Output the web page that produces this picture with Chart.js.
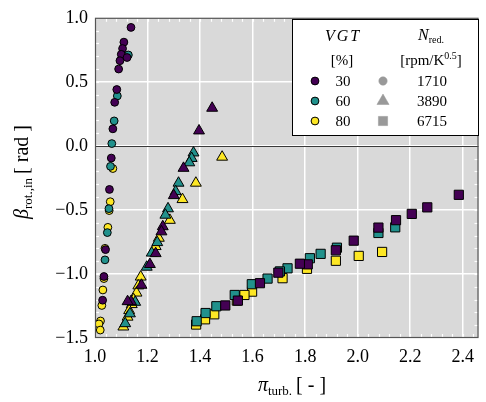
<!DOCTYPE html>
<html>
<head>
<meta charset="utf-8">
<script src="https://cdn.jsdelivr.net/npm/chart.js@4.4.1/dist/chart.umd.min.js"></script>
<style>
html,body{margin:0;padding:0;background:#fff;}
#wrap{width:486px;height:402px;position:relative;}
</style>
</head>
<body>
<div id="wrap"><canvas id="c"></canvas></div>
<script>
// ---- data (x = pi_turb, y = beta_rot,in) ----
const circ30 = [[1.137,0.925],[1.11,0.81],[1.105,0.76],[1.10,0.715],[1.122,0.69],[1.095,0.665],[1.09,0.60],[1.083,0.44],[1.075,0.34],[1.068,0.133],[1.062,-0.095],[1.055,-0.34],[1.04,-0.81],[1.034,-1.02],[1.029,-1.205]];
const circ60 = [[1.127,0.71],[1.085,0.39],[1.073,0.195],[1.064,0.018],[1.059,-0.16],[1.053,-0.49],[1.047,-0.677],[1.038,-0.89]];
const circ80 = [[1.068,-0.177],[1.058,-0.436],[1.054,-0.505],[1.049,-0.636],[1.038,-0.80],[1.034,-1.036],[1.03,-1.125],[1.026,-1.246],[1.021,-1.367],[1.015,-1.39],[1.020,-1.438]];
const tri30 = [[1.446,0.295],[1.396,0.118],[1.337,-0.174],[1.30,-0.387],[1.258,-0.63],[1.253,-0.67],[1.231,-0.84],[1.209,-0.925],[1.177,-1.087],[1.137,-1.215],[1.124,-1.215]];
const tri60 = [[1.375,-0.054],[1.368,-0.097],[1.359,-0.131],[1.318,-0.29],[1.307,-0.356],[1.278,-0.49],[1.268,-0.54],[1.237,-0.754],[1.216,-0.836],[1.197,-0.946],[1.153,-1.22],[1.133,-1.31],[1.115,-1.387]];
const tri80 = [[1.484,-0.087],[1.384,-0.29],[1.333,-0.418],[1.285,-0.58],[1.243,-0.72],[1.231,-0.785],[1.174,-1.023],[1.165,-1.092],[1.158,-1.148],[1.147,-1.20],[1.14,-1.238],[1.13,-1.285],[1.124,-1.336],[1.108,-1.413]];
const sq30 = [[2.385,-0.382],[2.265,-0.48],[2.206,-0.531],[2.146,-0.58],[2.079,-0.638],[1.985,-0.74],[1.917,-0.815],[1.81,-0.925],[1.78,-0.92],[1.698,-0.99],[1.628,-1.072],[1.544,-1.208],[1.496,-1.246]];
const sq60 = [[2.143,-0.636],[2.079,-0.68],[1.921,-0.795],[1.859,-0.843],[1.818,-0.877],[1.733,-0.956],[1.704,-0.98],[1.657,-1.036],[1.597,-1.08],[1.532,-1.164],[1.462,-1.252],[1.421,-1.305],[1.387,-1.369]];
const sq80 = [[2.093,-0.828],[2.004,-0.859],[1.917,-0.897],[1.807,-0.96],[1.714,-1.033],[1.598,-1.138],[1.569,-1.164],[1.54,-1.208],[1.454,-1.315],[1.419,-1.354],[1.385,-1.395]];

const vgtLabels = ['30','60','80'];
const nredLabels = ['1710','3890','6715'];
const xTickValues = [1.0,1.2,1.4,1.6,1.8,2.0,2.2,2.4];
const xTickLabels = ['1.0','1.2','1.4','1.6','1.8','2.0','2.2','2.4'];
const yTickValues = [1.0,0.5,0.0,-0.5,-1.0,-1.5];
const yTickLabels = ['1.0','0.5','0.0','\u22120.5','\u22121.0','\u22121.5'];

const COLORS = ['#440154','#21918c','#fde725'];
const SERIF = "'Liberation Serif','DejaVu Serif',serif";

function ds(pts, color, shape, r){
  return {data: pts.map(p=>({x:p[0],y:p[1]})), backgroundColor: color, borderColor:'#000', borderWidth:1,
          pointStyle: shape, pointRadius: r, pointHoverRadius: r};
}
const datasets = [
  ds(sq30,COLORS[0],'rect',6.5), ds(sq60,COLORS[1],'rect',6.5), ds(sq80,COLORS[2],'rect',6.5),
  ds(tri30,COLORS[0],'triangle',6.3), ds(tri60,COLORS[1],'triangle',6.3), ds(tri80,COLORS[2],'triangle',6.3),
  ds(circ30,COLORS[0],'circle',3.9), ds(circ60,COLORS[1],'circle',3.9), ds(circ80,COLORS[2],'circle',3.9)
];

const decor = {
  id:'decor',
  beforeDraw(chart){
    const {ctx, chartArea:a} = chart;
    ctx.save();
    ctx.fillStyle = '#d9d9d9';
    ctx.fillRect(a.left, a.top, a.right-a.left, a.bottom-a.top);
    ctx.restore();
  },
  beforeDatasetsDraw(chart){
    const {ctx, chartArea:a, scales:{x,y}} = chart;
    ctx.save();
    ctx.strokeStyle = '#ffffff'; ctx.lineWidth = 1.2;
    for(let i=0;i<=36;i++){
      const v = 1.0 + i*0.04; const px = Math.round(x.getPixelForValue(v))+0.5;
      if(px>a.right) break;
      ctx.beginPath(); ctx.moveTo(px,a.bottom); ctx.lineTo(px,a.bottom-4); ctx.stroke();
      ctx.beginPath(); ctx.moveTo(px,a.top); ctx.lineTo(px,a.top+4); ctx.stroke();
    }
    for(let i=0;i<=25;i++){
      const v = -1.5 + i*0.1; const py = Math.round(y.getPixelForValue(v))+0.5;
      ctx.beginPath(); ctx.moveTo(a.left,py); ctx.lineTo(a.left+4,py); ctx.stroke();
      ctx.beginPath(); ctx.moveTo(a.right,py); ctx.lineTo(a.right-4,py); ctx.stroke();
    }
    const y0 = Math.round(y.getPixelForValue(0))+0.5;
    ctx.strokeStyle = '#3a3a3a'; ctx.lineWidth = 1.2;
    ctx.beginPath(); ctx.moveTo(a.left,y0); ctx.lineTo(a.right,y0); ctx.stroke();
    ctx.restore();
  },
  afterDatasetsDraw(chart){
    const {ctx, chartArea:a} = chart;
    ctx.save();
    ctx.strokeStyle = '#555'; ctx.lineWidth = 1.2;
    ctx.strokeRect(a.left+0.5, a.top+0.5, a.right-a.left-1, a.bottom-a.top-1);
    ctx.restore();
  },
  afterDraw(chart){
    const {ctx} = chart;
    ctx.save();
    ctx.fillStyle = '#000'; ctx.textBaseline = 'alphabetic';
    function measure(parts){ let w=0; for(const p of parts){ ctx.font=p[1]; w+=ctx.measureText(p[0]).width; } return w; }
    function drawParts(parts, cx, by){
      let w = measure(parts); let xx = cx - w/2;
      for(const p of parts){ ctx.font=p[1]; ctx.textAlign='left'; ctx.fillText(p[0], xx, by + (p[2]||0)); xx += ctx.measureText(p[0]).width; }
    }
    drawParts([['\u03c0','italic 20px '+SERIF,0],['turb.','13px '+SERIF,4],['\u2009[ - ]','20px '+SERIF,0]], 292, 391);
    ctx.save();
    ctx.translate(28, 172); ctx.rotate(-Math.PI/2);
    drawParts([['\u03b2','italic 20px '+SERIF,0],['rot.,in','13px '+SERIF,4],['\u2009[ rad ]','20px '+SERIF,0]], 0, 0);
    ctx.restore();
    const L = {l:292, t:19, r:479, b:136};
    ctx.fillStyle = '#fff'; ctx.fillRect(L.l, L.t, L.r-L.l, L.b-L.t);
    ctx.strokeStyle = '#000'; ctx.lineWidth = 1; ctx.strokeRect(L.l+0.5, L.t+0.5, L.r-L.l-1, L.b-L.t-1);
    ctx.fillStyle = '#000';
    ctx.save();
    ctx.letterSpacing = '2px';
    drawParts([['VGT','italic 16px '+SERIF,0]], 343, 41);
    ctx.restore();
    drawParts([['N','italic 16px '+SERIF,0],['red.','10px '+SERIF,3]], 431, 40);
    drawParts([['[%]','15px '+SERIF,0]], 342, 65);
    drawParts([['[rpm/K','15px '+SERIF,0],['0.5','10px '+SERIF,-6],[']','15px '+SERIF,0]], 431, 65);
    const rows = [81, 101, 121];
    const shapes = ['circle','triangle','rect'];
    const gr = [4.2, 7, 6.5];
    for(let i=0;i<3;i++){
      ctx.save(); ctx.fillStyle = COLORS[i]; ctx.strokeStyle='#000'; ctx.lineWidth=1;
      ctx.beginPath(); ctx.arc(315, rows[i], 3.9, 0, Math.PI*2); ctx.fill(); ctx.stroke(); ctx.restore();
      ctx.save(); ctx.fillStyle = '#999'; ctx.strokeStyle='#999'; ctx.lineWidth=0.5;
      Chart.helpers.drawPoint(ctx, {pointStyle:shapes[i], radius:gr[i], borderWidth:0.5}, 383, rows[i]);
      ctx.restore();
      ctx.fillStyle = '#000';
      drawParts([[vgtLabels[i],'15px '+SERIF,0]], 343, rows[i]+5);
      drawParts([[nredLabels[i],'15px '+SERIF,0]], 432, rows[i]+5);
    }
    ctx.restore();
  }
};

new Chart(document.getElementById('c'), {
  type:'scatter',
  data:{datasets},
  plugins:[decor],
  options:{
    responsive:true, maintainAspectRatio:false, devicePixelRatio:1, animation:false,
    layout:{padding:{top:12, right:2, left:0, bottom:0}},
    plugins:{legend:{display:false}, tooltip:{enabled:false}},
    scales:{
      x:{type:'linear', min:1.0, max:2.46,
        afterBuildTicks(s){ s.ticks = xTickValues.map(v=>({value:v})); },
        afterFit(s){ s.height = 64; },
        grid:{color:'#ffffff', lineWidth:1.5, drawTicks:false},
        border:{display:false},
        ticks:{padding:8, color:'#000', font:{family:SERIF, size:18},
          callback:(v,i)=>xTickLabels[i]}
      },
      y:{type:'linear', min:-1.5, max:1.0,
        afterBuildTicks(s){ s.ticks = yTickValues.map(v=>({value:v})); },
        afterFit(s){ s.width = 95; },
        grid:{color:'#ffffff', lineWidth:1.5, drawTicks:false},
        border:{display:false},
        ticks:{padding:7, color:'#000', font:{family:SERIF, size:18},
          callback:(v,i)=>yTickLabels[i]}
      }
    }
  }
});
</script>
</body>
</html>
